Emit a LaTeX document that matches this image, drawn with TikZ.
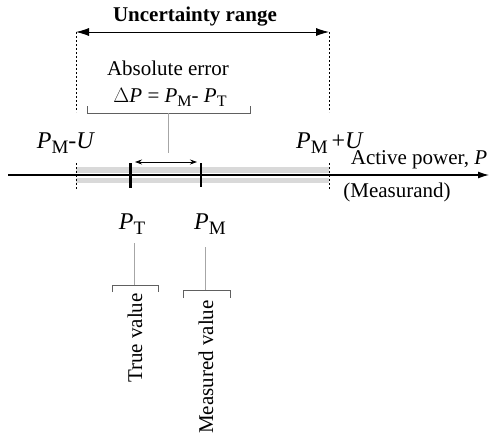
\documentclass[tikz,border=0pt]{standalone}
\usepackage{fontspec}
\setmainfont{Liberation Serif}
\usetikzlibrary{arrows.meta}
\newcommand\subl[1]{\raisebox{-0.4ex}{\fontsize{16}{16}\selectfont #1}}
\newcommand\subL[1]{\raisebox{-0.4ex}{\fontsize{19}{19}\selectfont #1}}
\newcommand\Pv{\textit{P}}
\tikzset{
  lbl/.style={font=\fontsize{21}{24}\selectfont, inner sep=0pt},
  plbl/.style={font=\fontsize{24}{26}\selectfont, inner sep=0pt},
  guide/.style={line width=0.8pt, dash pattern=on 2pt off 2pt},
  brk/.style={gray!75!black, line width=0.9pt},
  stem/.style={gray!70, line width=0.9pt},
}
\begin{document}
\begin{tikzpicture}[x=1pt,y=-1pt]
\useasboundingbox (0,0) rectangle (489,439);
% band and axis
\fill[gray!30] (76,167) rectangle (329,172.5);
\fill[gray!30] (76,177.5) rectangle (329,183);
\coordinate (ax0) at (8,175);
\coordinate (ax1) at (489,175);
\draw[line width=1.2pt, -{Latex[length=11pt,width=7pt]}] (ax0) -- (ax1);
% uncertainty range
\node[lbl, font=\fontsize{21}{24}\selectfont\bfseries] (title) at (195,17) {Uncertainty range};
\coordinate (ul) at (76,32);
\coordinate (ur) at (329,32);
\draw[line width=0.8pt, {Latex[length=13pt,width=8pt]}-{Latex[length=13pt,width=8pt]}] (ul) -- (ur);
\coordinate (ulb) at (76,112);
\coordinate (urb) at (329,112);
\draw[guide] (ul) -- (ulb);
\draw[guide] (ur) -- (urb);
\coordinate (la) at (76,163); \coordinate (lb) at (76,190);
\coordinate (ra) at (329,163); \coordinate (rb) at (329,190);
\draw[guide] (la) -- (lb);
\draw[guide] (ra) -- (rb);
% absolute error
\node[lbl] (abs) at (168,68) {Absolute error};
\node[lbl] (dp) at (170,97) {$\Delta$\Pv{} = \Pv\subl{M}- \Pv\subl{T}};
\coordinate (b1) at (87,106); \coordinate (b2) at (87,113);
\coordinate (b3) at (250,113); \coordinate (b4) at (250,106);
\draw[brk] (b1) -- (b2) -- (b3) -- (b4);
\coordinate (bs) at (168,113); \coordinate (be) at (168,153);
\draw[stem] (bs) -- (be);
% limits
\node[plbl] (pmu) at (66,143) {\Pv\subL{M}-\textit{U}};
\node[plbl] (ppu) at (330,143) {\Pv\subL{M}\,+\textit{U}};
\node[lbl] (ap) at (419,160) {Active power, \textit{P}};
\node[lbl] (meas) at (397,192) {(Measurand)};
% ticks
\coordinate (t1) at (130,163); \coordinate (t2) at (130,188);
\draw[line width=3pt] (t1) -- (t2);
\coordinate (m1) at (201,163); \coordinate (m2) at (201,187);
\draw[line width=1.4pt] (m1) -- (m2);
\coordinate (e1) at (135,162); \coordinate (e2) at (197,162);
\draw[line width=0.8pt, {Stealth[length=7pt,width=5pt]}-{Stealth[length=7pt,width=5pt]}] (e1) -- (e2);
% labels below
\node[plbl] (pt) at (132,224) {\Pv\subL{T}};
\node[plbl] (pm) at (210,224) {\Pv\subL{M}};
% true value bracket
\coordinate (ts) at (134,243); \coordinate (te) at (134,285);
\draw[stem] (ts) -- (te);
\draw[brk] (112,292) -- (112,285) -- (158,285) -- (158,292);
\node[lbl, rotate=90] (tv) at (135,338) {True value};
% measured value bracket
\coordinate (ms) at (205,247); \coordinate (me) at (205,290);
\draw[stem] (ms) -- (me);
\draw[brk] (183,298) -- (183,290) -- (230,290) -- (230,298);
\node[lbl, rotate=90] (mv) at (206,367) {Measured value};
\end{tikzpicture}
\end{document}
